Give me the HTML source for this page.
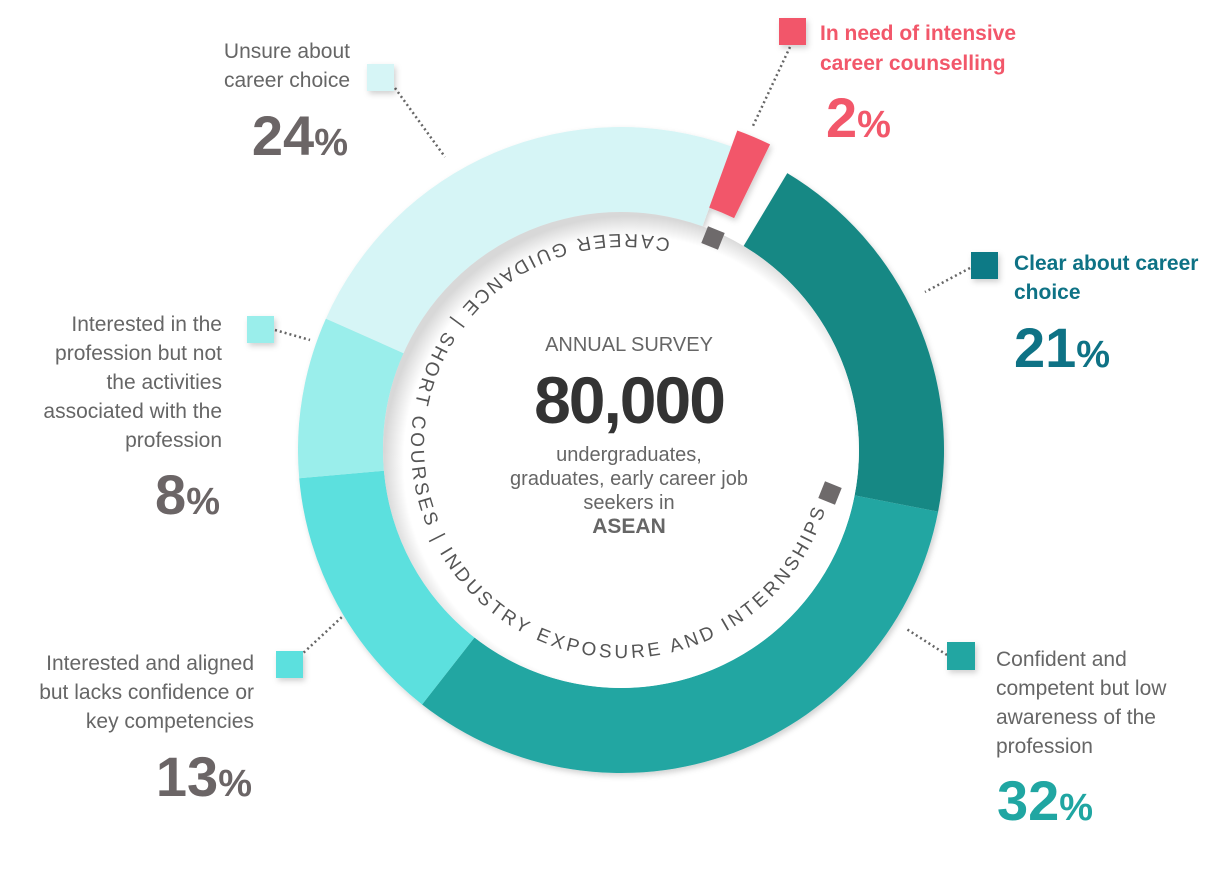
<!DOCTYPE html>
<html><head><meta charset="utf-8"><style>
html,body{margin:0;padding:0;background:#fff;}
svg{display:block;font-family:"Liberation Sans",sans-serif;}
</style></head><body>
<svg width="1208" height="879" viewBox="0 0 1208 879">
<defs>
<radialGradient id="ig" cx="630" cy="462" r="246" gradientUnits="userSpaceOnUse">
<stop offset="0.92" stop-color="#fff"/><stop offset="1" stop-color="#d8d8d8"/>
</radialGradient>
<filter id="sh" x="-10%" y="-10%" width="120%" height="120%"><feDropShadow dx="2" dy="3" stdDeviation="3" flood-color="#000" flood-opacity="0.18"/></filter>
<path id="tp" d="M670.7,239.4 A212,212 0 1 0 575.3,652.6 A212,212 0 1 0 670.7,239.4"/>
</defs>
<g filter="url(#sh)">
<path d="M787.3,173.1 A323,323 0 0 1 938.1,511.6 L854.6,495.4 A238,238 0 0 0 743.6,246.0 Z" fill="#198884"/>
<path d="M938.1,511.6 A323,323 0 0 1 422.1,704.5 L474.5,637.5 A238,238 0 0 0 854.6,495.4 Z" fill="#20a6a2"/>
<path d="M422.1,704.5 A323,323 0 0 1 299.2,478.2 L383.9,470.8 A238,238 0 0 0 474.5,637.5 Z" fill="#5ce0de"/>
<path d="M299.2,478.2 A323,323 0 0 1 325.9,318.6 L403.6,353.2 A238,238 0 0 0 383.9,470.8 Z" fill="#9aeeeb"/>
<path d="M325.9,318.6 A323,323 0 0 1 731.5,146.5 L702.4,226.4 A238,238 0 0 0 403.6,353.2 Z" fill="#d6f5f6"/>
<path d="M737.3,130.5 A340,340 0 0 1 770.1,144.4 L734.1,218.1 A258,258 0 0 0 709.2,207.6 Z" fill="#f2576a"/>
</g>
<circle cx="621" cy="450" r="238" fill="url(#ig)"/>
<text font-size="19" fill="#555" letter-spacing="2"><textPath href="#tp" textLength="984" lengthAdjust="spacing">CAREER GUIDANCE  |  SHORT COURSES  |  INDUSTRY EXPOSURE AND INTERNSHIPS</textPath></text>
<rect x="704" y="229" width="18" height="18" fill="#6e6a6b" transform="rotate(22 713 238)"/>
<rect x="821" y="484" width="18" height="18" fill="#6e6a6b" transform="rotate(22 830 493)"/>
<g text-anchor="middle" fill="#666">
<text x="629" y="351" font-size="20">ANNUAL SURVEY</text>
<text x="629" y="423" font-size="66" font-weight="bold" fill="#333" letter-spacing="-2">80,000</text>
<text x="629" y="461" font-size="20">undergraduates,</text>
<text x="629" y="485" font-size="20">graduates, early career job</text>
<text x="629" y="509" font-size="20">seekers in</text>
<text x="629" y="533" font-size="21" font-weight="bold">ASEAN</text>
</g>
<g stroke="#666" stroke-width="2.5" stroke-dasharray="2,3" fill="none">
<line x1="395" y1="88" x2="445" y2="157"/>
<line x1="790" y1="47" x2="752" y2="128"/>
<line x1="970" y1="268" x2="925" y2="292"/>
<line x1="947" y1="655" x2="905" y2="628"/>
<line x1="300" y1="656" x2="343" y2="616"/>
<line x1="275" y1="330" x2="310" y2="340"/>
</g>
<g filter="url(#sh)">
<rect x="367" y="64" width="27" height="27" fill="#d6f5f6"/>
<rect x="779" y="18" width="27" height="27" fill="#f2576a"/>
<rect x="971" y="252" width="27" height="27" fill="#0e7a86"/>
<rect x="947" y="642" width="28" height="28" fill="#20a6a2"/>
<rect x="276" y="651" width="27" height="27" fill="#5ce0de"/>
<rect x="247" y="316" width="27" height="27" fill="#9aeeeb"/>
</g>
<g font-size="21" fill="#666" text-anchor="end">
<text x="350" y="58">Unsure about</text>
<text x="350" y="87">career choice</text>
<text x="222" y="331">Interested in the</text>
<text x="222" y="360">profession but not</text>
<text x="222" y="389">the activities</text>
<text x="222" y="418">associated with the</text>
<text x="222" y="447">profession</text>
<text x="254" y="670">Interested and aligned</text>
<text x="254" y="699">but lacks confidence or</text>
<text x="254" y="728">key competencies</text>
</g>
<g font-size="21" fill="#666">
<text x="996" y="666">Confident and</text>
<text x="996" y="695">competent but low</text>
<text x="996" y="724">awareness of the</text>
<text x="996" y="753">profession</text>
</g>
<g font-size="21" font-weight="bold">
<text x="820" y="40" fill="#f2576a">In need of intensive</text>
<text x="820" y="70" fill="#f2576a">career counselling</text>
<text x="1014" y="270" fill="#0e7285">Clear about career</text>
<text x="1014" y="299" fill="#0e7285">choice</text>
</g>
<g font-weight="bold" font-size="56">
<text x="348" y="155" text-anchor="end" fill="#6b6566">24<tspan font-size="38">%</tspan></text>
<text x="220" y="514" text-anchor="end" fill="#6b6566">8<tspan font-size="38">%</tspan></text>
<text x="252" y="796" text-anchor="end" fill="#6b6566">13<tspan font-size="38">%</tspan></text>
<text x="826" y="137" fill="#f2576a">2<tspan font-size="38">%</tspan></text>
<text x="1014" y="367" fill="#0e7285">21<tspan font-size="38">%</tspan></text>
<text x="997" y="820" fill="#20a6a2">32<tspan font-size="38">%</tspan></text>
</g>
</svg>
</body></html>
